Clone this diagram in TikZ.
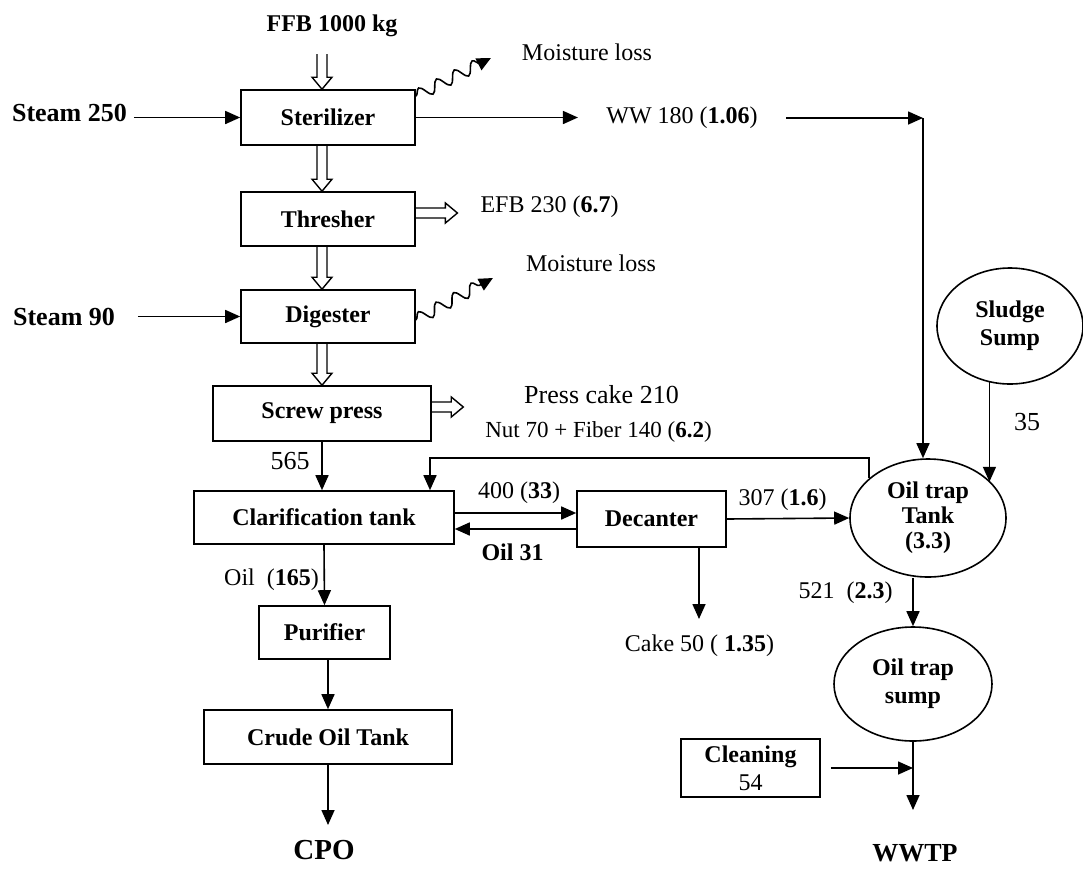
\documentclass[tikz,border=0pt]{standalone}
\usepackage{fontspec}
\setmainfont{Liberation Serif}
\usetikzlibrary{arrows.meta,calc,positioning,shapes.geometric,decorations.pathmorphing}

\begin{document}
\begin{tikzpicture}[x=0.5pt,y=-0.5pt,
    font=\fontsize{12}{14}\selectfont,
    unit/.style={draw, line width=0.8pt, font=\fontsize{12}{14}\selectfont\bfseries, inner sep=0pt},
    tank/.style={draw, ellipse, line width=0.8pt, font=\fontsize{12}{14}\selectfont\bfseries, align=center, inner sep=0pt},
    boldtag/.style={font=\fontsize{12}{14}\selectfont\bfseries},
    bigtag/.style={font=\fontsize{13}{15}\selectfont},
    flow/.style={line width=0.8pt, -{Triangle[length=7.5pt,width=6.5pt]}},
    hollow/.style={line width=0.7pt, to path={let \p1=(\tikztostart), \p2=(\tikztotarget),
        \n1={atan2(\y2-\y1,\x2-\x1)}, \n2={veclen(\x2-\x1,\y2-\y1)} in
        [shift={(\p1)}, rotate=\n1] (0pt,2.5pt) -- ({\n2*1pt-6pt},2.5pt) -- ({\n2*1pt-6pt},5pt)
        -- ({\n2*1pt},0pt) -- ({\n2*1pt-6pt},-5pt) -- ({\n2*1pt-6pt},-2.5pt) -- (0pt,-2.5pt)}},
    vapour/.style={line width=0.8pt, -{Triangle[length=7pt,width=6.5pt]}, decorate,
        decoration={snake, amplitude=3pt, segment length=10pt, post length=5pt}}]
    \useasboundingbox (0,0) rectangle (1083,869);

    % process units, left column
    \node[unit, minimum width=87pt, minimum height=27.5pt] (sterilizer) at (328,117.5) {Sterilizer};
    \node[unit, minimum width=87pt, minimum height=27pt] (thresher) at (328,219) {Thresher};
    \node[unit, minimum width=87pt, minimum height=26.5pt] (digester) at (328,316.5) {Digester};
    \node[unit, minimum width=109pt, minimum height=27.5pt] (screwpress) at (322,413.5) {Screw press};
    \node[unit, minimum width=130pt, minimum height=26.5pt] (clarif) at (324,517.5) {Clarification tank};
    \node[unit, minimum width=65.5pt, minimum height=26.5pt] (purifier) at (324.5,632.5) {Purifier};
    \node[unit, minimum width=124pt, minimum height=27pt] (crudetank) at (328,737) {Crude Oil Tank};
    \node[unit, minimum width=74.5pt, minimum height=28pt] (decanter) at (651.5,519) {Decanter};
    \node[unit, minimum width=69.5pt, minimum height=29pt, align=center] (cleaning) at (750.5,768) {Cleaning\\\mdseries 54};

    % waste water side
    \node[tank, minimum width=73pt, minimum height=58pt] (sludge) at (1010,326) {Sludge\\Sump};
    \node[tank, minimum width=78pt, minimum height=59pt, font=\fontsize{12}{12.5}\selectfont\bfseries] (oiltank) at (928,518) {Oil trap\\Tank\\(3.3)};
    \node[tank, minimum width=79pt, minimum height=57pt] (sump) at (913,684) {Oil trap\\sump};

    % streams
    \node[boldtag] (ffb) at (332,26) {FFB 1000 kg};
    \node[font=\fontsize{13}{15}\selectfont\bfseries] (steamA) at (69.5,113) {Steam 250};
    \node[font=\fontsize{13}{15}\selectfont\bfseries] (steamB) at (64,317) {Steam 90};
    \node (moistA) at (587,52) {Moisture loss};
    \node (moistB) at (591,263) {Moisture loss};
    \node[inner xsep=14pt] (ww) at (682,118) {WW 180 (\textbf{1.06})};
    \node (efb) at (549.5,207) {EFB 230 (\textbf{6.7})};
    \node[bigtag] (presscake) at (601.5,395) {Press cake 210};
    \node[font=\fontsize{11.5}{14}\selectfont] (nutfiber) at (598.5,432) {Nut 70 + Fiber 140 (\textbf{6.2})};
    \node[bigtag] (lbA) at (290,461) {565};
    \node (lbB) at (519,493) {400 (\textbf{33})};
    \node[boldtag] (lbC) at (512.5,552) {Oil 31};
    \node (lbD) at (782.5,500) {307 (\textbf{1.6})};
    \node[bigtag] (lbE) at (1027,422) {35};
    \node (lbF) at (845.5,593) {521\enspace(\textbf{2.3})};
    \node (lbG) at (271.5,580) {Oil\enspace(\textbf{165})};
    \node (cake) at (699.5,646) {Cake 50 ( \textbf{1.35})};
    \node[font=\fontsize{14.5}{16}\selectfont\bfseries] (cpo) at (324,850) {CPO};
    \node[font=\fontsize{13}{15}\selectfont\bfseries] (wwtp) at (915,853) {WWTP};

    \coordinate (wwjoint) at (923,118);
    \coordinate (retcorner) at (430,458);
    \coordinate (cakein) at (699,619);
    \coordinate (cpoin) at (328,825);
    \coordinate (wwtpin) at (913,810);

    % solids
    \draw[hollow] ([xshift=-3pt,yshift=-5pt]ffb.south -| sterilizer.north) to ([xshift=-3pt]sterilizer.north);
    \draw[hollow] ([xshift=-3pt]sterilizer.south) to ([xshift=-3pt]thresher.north);
    \draw[hollow] ([xshift=-3pt]thresher.south) to ([xshift=-3pt]digester.north);
    \draw[hollow] ([xshift=-3pt]digester.south) to (screwpress.north);
    \draw[hollow] ([yshift=3pt]thresher.east) to ([yshift=3pt,xshift=-8pt]thresher.east -| efb.west);
    \draw[hollow] ([yshift=3.25pt]screwpress.east) to ([yshift=3.25pt,xshift=-7.5pt]screwpress.east -| nutfiber.west);

    % steam and vapour
    \draw[flow] (steamA.east |- sterilizer) -- (sterilizer.west);
    \draw[flow, shorten <=8pt] (steamB.east |- digester) -- (digester.west);
    \draw[vapour] ([yshift=-3.5pt]sterilizer.north east) -- ([xshift=-12pt,yshift=-3pt]moistA.west);
    \draw[vapour] ([yshift=-1.75pt]digester.east) -- ([xshift=-13pt,yshift=-7.5pt]moistB.west);

    % liquids
    \draw[flow] (sterilizer.east) -- (sterilizer.east -| ww.west);
    \draw[flow] (ww.east) -- (wwjoint);
    \draw[flow] (wwjoint) -- (wwjoint |- oiltank.north);
    \draw[flow] (screwpress.south) -- (screwpress.south |- clarif.north);
    \draw[flow] (oiltank.146) |- (retcorner) -- (retcorner |- clarif.north);
    \draw[flow] ([yshift=2.25pt]clarif.east) -- ([yshift=2.25pt]clarif.east -| decanter.west);
    \draw[flow] ([yshift=-5.75pt]clarif.east -| decanter.west) -- ([yshift=-5.75pt]clarif.east);
    \draw[flow] (decanter.east) -- (oiltank.west);
    \draw[flow] (decanter.south -| cakein) -- (cakein);
    \draw[flow] (sludge.250) -- (sludge.250 |- oiltank.30);
    \draw[flow] (oiltank.south -| sump.north) -- (sump.north);
    \draw[flow] (clarif.south) -- (purifier.north);
    \draw[flow] (purifier.south -| crudetank.north) -- (crudetank.north);
    \draw[flow] (crudetank.south) -- (cpoin);
    \draw[flow] (sump.south) -- (wwtpin);
    \draw[flow, shorten <=5pt] (cleaning.east) -- (cleaning.east -| sump.south);
\end{tikzpicture}
\end{document}
